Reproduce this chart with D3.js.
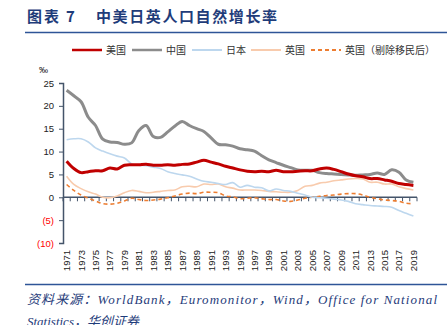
<!DOCTYPE html>
<html lang="zh">
<head>
<meta charset="UTF-8">
<title>中美日英人口自然增长率</title>
<script src="https://d3js.org/d3.v7.min.js"></script>
<style>
  body { margin: 0; background: #fff; }
  svg { display: block; font-family: "Liberation Sans", "Noto Sans CJK SC", sans-serif; }
</style>
</head>
<body>
<script>
// years 1971..2019
const years = d3.range(1971, 2020);

// natural growth rate, per mille
const usa = [7.9, 6.3, 5.4, 5.6, 5.8, 5.8, 6.4, 6.2, 7.0, 7.1, 7.1, 7.2, 7.0, 7.0, 7.1, 7.0, 7.2, 7.3, 7.7, 8.1, 7.7, 7.3, 6.8, 6.4, 6.0,
             5.7, 5.6, 5.7, 5.6, 5.9, 5.6, 5.6, 5.7, 5.8, 5.8, 6.2, 6.4, 6.1, 5.6, 5.1, 4.7, 4.5, 4.1, 4.1, 3.8, 3.5, 3.0, 2.8, 2.6];
const china = [23.4, 22.2, 20.9, 17.5, 15.7, 12.7, 12.1, 12.0, 11.6, 11.9, 14.6, 15.7, 13.3, 13.1, 14.3, 15.6, 16.6, 15.7, 15.0, 14.4, 13.0, 11.6, 11.5, 11.2, 10.6,
               10.4, 10.1, 9.1, 8.2, 7.6, 7.0, 6.5, 6.0, 5.9, 5.9, 5.4, 5.2, 5.1, 5.0, 4.9, 4.8, 4.9, 5.0, 5.3, 5.0, 6.0, 5.5, 3.8, 3.3];
const japan = [12.6, 12.8, 12.8, 12.1, 10.8, 10.1, 9.5, 9.0, 8.6, 7.3, 7.0, 6.9, 6.6, 6.3, 5.6, 5.2, 4.9, 4.6, 4.0, 3.5, 3.3, 3.0, 2.8, 3.2, 2.2,
               2.6, 2.2, 2.1, 1.4, 1.8, 1.5, 1.3, 0.9, 0.5, 0.0, -0.1, -0.2, -0.4, -0.6, -0.9, -1.4, -1.6, -1.8, -1.9, -2.0, -2.2, -2.9, -3.5, -4.1];
const uk = [4.6, 2.8, 1.9, 1.2, 0.7, 0.0, -0.1, 0.3, 1.0, 1.5, 1.3, 1.0, 1.1, 1.3, 1.5, 1.6, 2.3, 2.4, 2.3, 2.9, 2.8, 2.9, 2.3, 2.0, 1.6,
            1.6, 1.6, 1.5, 1.3, 1.2, 1.1, 1.1, 1.5, 2.4, 2.6, 3.1, 3.3, 3.6, 3.8, 4.0, 4.1, 4.0, 3.3, 3.3, 2.9, 2.9, 2.3, 1.9, 1.6];
const ukNoMig = [2.8, 1.5, 0.5, -0.2, -0.8, -1.4, -1.5, -1.3, -0.8, -0.2, -0.5, -0.7, -0.6, -0.4, -0.1, 0.3, 0.7, 0.9, 0.8, 1.1, 1.1, 1.0, 0.3, 0.1, -0.3,
                 -0.2, -0.1, -0.3, -0.5, -0.5, -0.8, -0.9, -0.6, -0.2, 0.0, 0.2, 0.4, 0.5, 0.7, 0.8, 0.8, 0.5, 0.0, -0.3, -0.6, -0.7, -0.9, -1.3, -1.4];

const yTicks = [25, 20, 15, 10, 5, 0, -5, -10];

const series = [
  { name: "美国", values: usa, color: "#C00000", width: 3, dash: null },
  { name: "中国", values: china, color: "#8C8C8C", width: 3, dash: null },
  { name: "日本", values: japan, color: "#BDD7EE", width: 1.6, dash: null },
  { name: "英国", values: uk, color: "#F8CBAD", width: 1.6, dash: null },
  { name: "英国（剔除移民后）", values: ukNoMig, color: "#ED7D31", width: 1.6, dash: "4,3" }
];

const W = 447, H = 325;
const svg = d3.select("body").append("svg").attr("width", W).attr("height", H);

const navy = "#1F3C7A";
const axisColor = "#44546A";

// title
const title = svg.append("text")
  .attr("x", 27).attr("y", 22)
  .attr("fill", navy)
  .style("font-family", "'Noto Sans CJK SC', sans-serif")
  .style("font-weight", "bold")
  .style("font-size", "15px");
title.append("tspan").style("letter-spacing", "2px").text("图表");
title.append("tspan").attr("x", 66).text("7");
title.append("tspan").attr("x", 96).style("letter-spacing", "1.6px").text("中美日英人口自然增长率");

svg.append("line").attr("x1", 25).attr("x2", W).attr("y1", 32.5).attr("y2", 32.5)
  .attr("stroke", "#2E5597").attr("stroke-width", 1.6);

// scales
const x = d3.scaleBand().domain(years).range([63, 417]);
const y = d3.scaleLinear().domain([-10, 25]).range([243, 83]);

// y axis
const yAxis = svg.append("g").attr("transform", "translate(63,0)")
  .call(d3.axisLeft(y).tickValues(yTicks).tickSize(4).tickFormat(d => d < 0 ? `(${-d})` : d));
yAxis.select(".domain").attr("stroke", axisColor).attr("stroke-width", 1.5);
yAxis.selectAll(".tick line").attr("stroke", axisColor);
yAxis.selectAll(".tick text")
  .attr("x", -9)
  .style("font-size", "9.5px")
  .attr("fill", d => d < 0 ? "#FF0000" : "#222");

svg.append("text").attr("x", 39).attr("y", 73).style("font-size", "9px").attr("fill", "#222").text("‰");

// x axis at zero, ticks at category boundaries
const y0 = y(0);
const xg = svg.append("g");
xg.append("line").attr("x1", 63).attr("x2", 417).attr("y1", y0).attr("y2", y0)
  .attr("stroke", axisColor).attr("stroke-width", 1.5);
xg.selectAll("line.tk").data(years.concat([2020])).enter().append("line")
  .attr("class", "tk")
  .attr("x1", d => d === 2020 ? 417 : x(d)).attr("x2", d => d === 2020 ? 417 : x(d))
  .attr("y1", y0).attr("y2", y0 + 4)
  .attr("stroke", axisColor);

// x labels (every other year) rotated
svg.append("g").selectAll("text").data(years.filter(d => (d - 1971) % 2 === 0)).enter().append("text")
  .attr("transform", d => `translate(${x(d) + x.bandwidth() / 2 + 3.5},250) rotate(-90)`)
  .attr("text-anchor", "end")
  .style("font-size", "9.5px")
  .attr("fill", "#222")
  .text(d => d);

// lines
const line = d3.line()
  .x((d, i) => x(years[i]) + x.bandwidth() / 2)
  .y(d => y(d))
  .curve(d3.curveCatmullRom.alpha(0.5));

const order = [3, 4, 2, 1, 0];
svg.append("g").selectAll("path").data(order.map(i => series[i])).enter().append("path")
  .attr("d", d => line(d.values))
  .attr("fill", "none")
  .attr("stroke", d => d.color)
  .attr("stroke-width", d => d.width)
  .attr("stroke-dasharray", d => d.dash)
  .attr("stroke-linejoin", "round");

// legend
const legendX = [72, 132, 192, 251, 311];
const lg = svg.append("g").selectAll("g").data(series).enter().append("g")
  .attr("transform", (d, i) => `translate(${legendX[i]},50)`);
lg.append("line").attr("x1", 0).attr("x2", 30).attr("y1", 0).attr("y2", 0)
  .attr("stroke", d => d.color)
  .attr("stroke-width", d => d.width === 3 ? 2.5 : 2)
  .attr("stroke-dasharray", d => d.dash);
lg.append("text").attr("x", 34).attr("y", 3.5)
  .style("font-size", "10px")
  .attr("fill", "#333")
  .text(d => d.name);

// bottom rule and source
svg.append("line").attr("x1", 25).attr("x2", W).attr("y1", 284.5).attr("y2", 284.5)
  .attr("stroke", "#2E5597").attr("stroke-width", 1.6);

svg.append("text").attr("x", 27).attr("y", 304)
  .attr("fill", navy)
  .style("font-family", "'Liberation Serif', 'Noto Sans CJK SC', serif")
  .style("font-style", "italic")
  .style("font-size", "13px")
  .attr("textLength", 410).attr("lengthAdjust", "spacing")
  .text("资料来源：WorldBank，Euromonitor，Wind，Office for National");
svg.append("text").attr("x", 27).attr("y", 326)
  .attr("fill", navy)
  .style("font-family", "'Liberation Serif', 'Noto Sans CJK SC', serif")
  .style("font-style", "italic")
  .style("font-size", "13px")
  .text("Statistics，华创证券");
</script>
</body>
</html>
